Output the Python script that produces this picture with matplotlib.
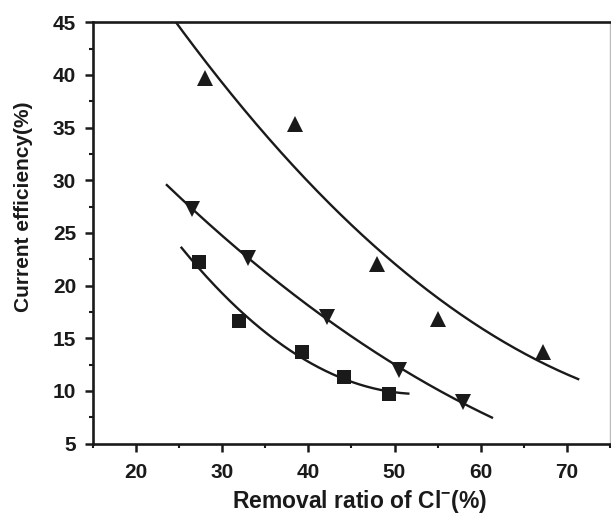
import numpy as np
import matplotlib
matplotlib.use("Agg")
import matplotlib.pyplot as plt

plt.rcParams['font.family'] = ['Liberation Sans', 'DejaVu Sans']
plt.rcParams['mathtext.fontset'] = 'custom'
plt.rcParams['mathtext.rm'] = 'Liberation Sans:bold'
plt.rcParams['mathtext.bf'] = 'Liberation Sans:bold'

# Measured points
x_up = [28.0, 38.5, 48.0, 55.0, 67.2]
y_up = [39.7, 35.3, 22.0, 16.8, 13.7]
x_down = [26.5, 33.0, 42.2, 50.5, 58.0]
y_down = [27.3, 22.6, 17.0, 12.0, 8.9]
x_sq = [27.3, 32.0, 39.3, 44.2, 49.4]
y_sq = [22.2, 16.6, 13.7, 11.3, 9.7]

# Fitted-curve ranges
fit_up = (24.0, 71.3)
fit_down = (23.6, 61.3)
fit_sq = (25.3, 51.6)

x_ticks = [20, 30, 40, 50, 60, 70]
y_ticks = [5, 10, 15, 20, 25, 30, 35, 40, 45]

INK = '#1a1a1a'

fig = plt.figure(figsize=(6.11, 5.16), dpi=100)
ax = fig.add_axes([0.1517, 0.1405, 0.8468, 0.8163])

for xs, ys, rng, mk, ms in [(x_up, y_up, fit_up, '^', 11.5),
                             (x_down, y_down, fit_down, 'v', 11.5),
                             (x_sq, y_sq, fit_sq, 's', 9.5)]:
    coef = np.polyfit(xs, ys, 2)
    xx = np.linspace(rng[0], rng[1], 300)
    ax.plot(xx, np.polyval(coef, xx), color=INK, lw=1.7, zorder=2)
    ax.plot(xs, ys, linestyle='none', marker=mk, color=INK,
            markersize=ms, markeredgewidth=0, zorder=3)

ax.set_xlim(15, 75)
ax.set_ylim(5, 45)
ax.set_xticks(x_ticks)
ax.set_yticks(y_ticks)
ax.set_xticks(np.arange(15, 76, 5), minor=True)
ax.set_yticks(np.arange(7.5, 45, 5), minor=True)

for lbl in ax.get_xticklabels() + ax.get_yticklabels():
    lbl.set_fontweight('bold')
ax.tick_params(axis='both', which='major', direction='out', length=6,
               width=1.8, labelsize=15, colors=INK)
ax.tick_params(axis='x', which='major', pad=8)
ax.tick_params(axis='y', which='major', pad=6)
ax.tick_params(axis='both', which='minor', direction='out', length=3,
               width=1.5, colors=INK)
ax.tick_params(top=False, right=False, which='both')

for side in ['left', 'bottom', 'top']:
    ax.spines[side].set_linewidth(1.9)
    ax.spines[side].set_color(INK)
ax.spines['right'].set_linewidth(1.0)
ax.spines['right'].set_color('#bbbbbb')

ax.set_xlabel(r'Removal ratio of Cl$^{-}$(%)', fontsize=16.5,
              fontweight='bold', color=INK)
ax.set_ylabel('Current efficiency(%)', fontsize=15, fontweight='bold',
              color=INK)
ax.xaxis.set_label_coords(0.516, -0.106)
ax.yaxis.set_label_coords(-0.115, 0.561)

fig.savefig('out.png', dpi=100)
